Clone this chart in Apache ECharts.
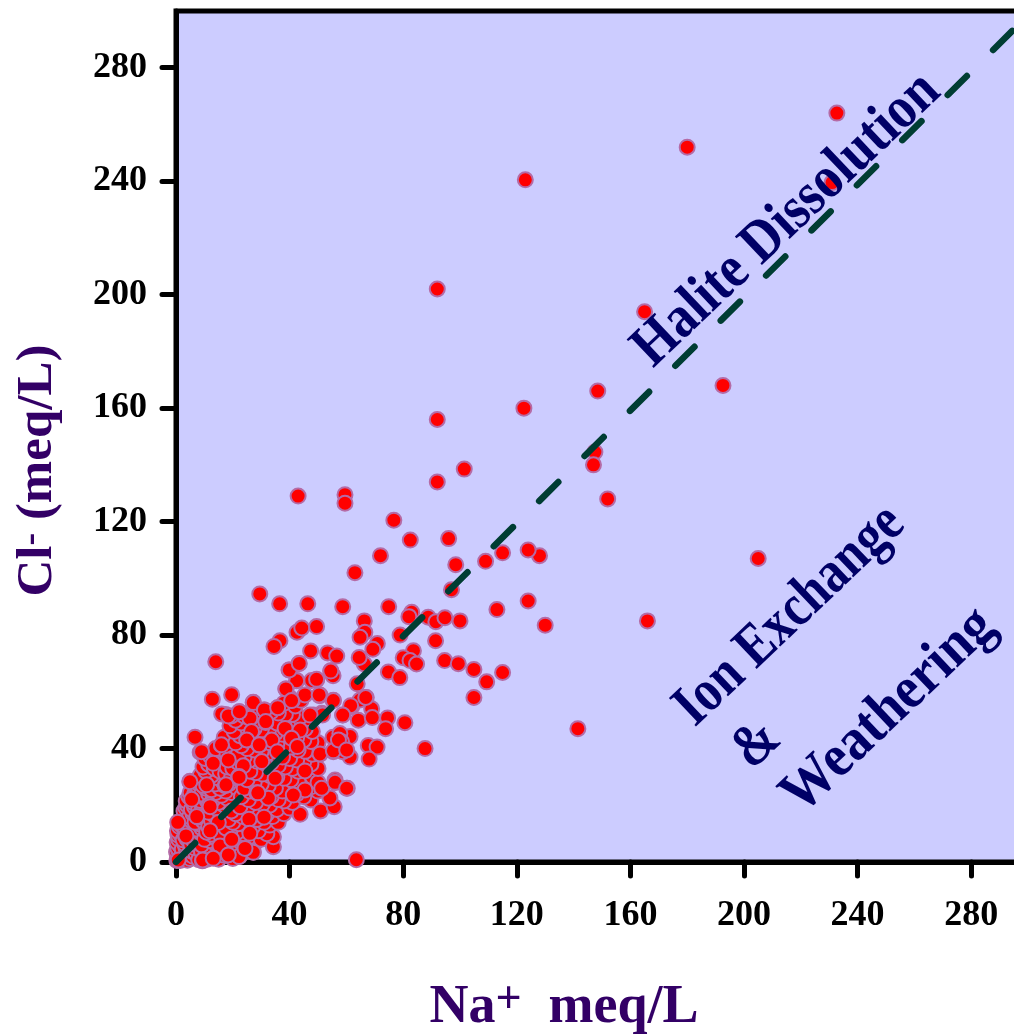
<!DOCTYPE html>
<html>
<head>
<meta charset="utf-8">
<style>html,body{margin:0;padding:0;background:#fff;overflow:hidden}#chart{width:1014px;height:1035px}</style>
<script src="https://cdn.jsdelivr.net/npm/echarts@6/dist/echarts.min.js"></script>
</head>
<body>
<div id="chart"></div>
<script>
const tickValues = [0, 40, 80, 120, 160, 200, 240, 280];
const xTitle = ['Na', '+', 'meq/L'];
const yTitle = ['Cl', '-', '(meq/L)'];
const reference1to1 = [[0, 0], [300, 298.5]];

const originPoints = [[0.3,0.5],[0.5,1.5],[0.8,2.5],[0.2,3.5],[1,4],[0.6,5],[1.2,6],[0.4,7],[1,8],[0.7,9.5],[1.5,10],[0.5,11],[1.2,12.5],[2,13],[2.5,15],[1.8,14],[3,16],[2.8,18],[3.5,19],[4,20],[3.6,21.5],[4.6,23],[5,24.5],[4.9,28.5],
[1.5,0.5],[2.5,1],[2,2.2],[3,3],[2.2,4.5],[3.5,5],[3,6.5],[2.5,7.8],[4,8],[3.3,9.2],[4.5,10],[3.2,11.5],[5,12],[4.2,13],[5.5,14.5],[4.8,16],[6,17],[5.4,18.5],[6.5,19.5],[6,21],[7,22],[6.6,24],[7.5,25],[7.3,27],[8.2,27.5],
[4,0.6],[5,1.2],[4.5,2.8],[6,2],[5.5,3.8],[7,3],[6.5,5],[5.2,6.3],[7.5,6],[6.2,7.5],[8,8],[7,9],[6,10],[8.5,10.5],[7.3,11.6],[9,12],[8,13.5],[6.7,14],[9.5,14.5],[7.8,15.8],[10,16],[9,17.5],[8,18.6],[10.5,19],[9.2,20],[8.5,21.7],[11,21.5],[10,23],[9,24],[11.5,24],[10.5,26],[9.5,27],[12,27],[11,28.5],[10,30],[8.5,30.5]];

const lowerLeftPoints = [[8,0.8],[9.3,0.4],[10,2],[11,1],[12,2.5],[9,3.5],[10.5,4.5],[13,4],[11.5,5.5],[9,6],[13.5,6.8],[12,7.5],[10,8],[14,8.5],[12.5,9.8],[10.8,10.5],[15,10.5],[13.5,11.5],[11.5,12.5],[16,12.5],[14.5,13.5],[12.5,14.5],[17,15],[15.5,15.5],[13.5,16.5],[11.5,17.5],[18,17],[16,18],[14,19],[12,20],[19,19.5],[17,20],[15,21],[13,22],[20,21.5],[18,22.5],[16,23.5],[14,24.5],[12.5,25.5],[19.5,24.5],[17.5,25],[15.5,26],[13.8,27.5],[21,26.5],[18.5,27.5],[16.5,28.5],[14.5,29.8],[12.5,30.5],[10.5,32],[9.5,33.5],[11.5,34.5],[13.5,33],[8.5,38.7],[10.2,36.5],[12,37.5],[6.7,44],[14,36],[15.5,32],[17.5,31],[19.5,29.5],[16,35],[18,33.5],[20,33],[22,30],[14,40],[16,41.2],[18,38],[20,36.5],[22,35],[24,33],[17,44],[12.8,57.4],[14,70.6],[19.6,59]];

const lowerBandPoints = [[15,1],[16.5,2.5],[18.4,2.4],[20,1.2],[22.3,1.9],[17,4.5],[15.5,5.2],[19,5.5],[21,4],[24,3.5],[27.2,3.4],[25,6],[23,7],[20,8],[18,8],[16,9],[28,7],[26,9],[24,10],[21.5,10.5],[19,11],[17.5,12],[30,8],[34.3,5.4],[34.3,8.9],[32,10],[29,11],[27,12.5],[24.5,13],[22,13.5],[20,14],[18.5,15],[33,13],[31,14],[28.5,15],[26,15.8],[23.5,16],[21,17],[19.5,18],[36,14],[34,16],[32,17],[29.5,18],[27,18.5],[25,19],[22.5,19.5],[38,17],[35.5,18.5],[33,20],[30.5,20.5],[28,21],[25.5,22],[23,23],[40,19],[43.7,16.8],[41,21],[38,21.5],[36,22],[33.5,23],[31,24],[28.5,24.5],[26,25],[24,26],[47.5,21.9],[45,23],[42.5,24],[40,24.5],[37.5,25],[35,26],[32.5,27],[30,27.5],[27.5,28],[25,29],[50.9,18],[55.7,19.5],[54.2,22.6],[56.1,28],[60.3,26],[50,25],[47.5,26.5],[45,27.5],[43,28.5],[40.5,29],[38,29.5],[35.5,30],[33,30.5],[30.5,31],[28,31.5],[26,32]];

const middlePoints = [[45.8,32.2],[48,30],[50,28],[43,32],[41,33],[38.5,33.5],[36,34],[33.5,35],[31,35],[28.5,35.5],[26,36],[24,37],[22,38],[50,33],[47.5,34.5],[45,35.5],[42.5,36],[40,36.5],[37.5,37],[35,38],[32.5,38.5],[30,39],[27.5,39.5],[25,40],[23,41],[21,42],[50.7,38.1],[48,38],[45.5,39],[43,39.5],[40.5,40.5],[38,41],[35.5,41.5],[33,42],[29.3,41.2],[27,43],[24.9,43],[22.5,44.5],[20.5,46],[19,48],[50,42],[47.5,42.5],[45,43],[42.5,44],[40,44.5],[37.5,45],[35,45.5],[32.5,46],[30,46.5],[27.5,47],[25,47.5],[23,49],[21,50],[48,46],[45.5,47],[43,47.5],[40.5,48],[38,48.5],[35.5,49],[31.6,49.2],[29,50],[26.5,51],[24,51.5],[22.3,53],[19.5,51.5],[17.5,52],[48.4,51.8],[51.3,52.4],[46,50.5],[43.5,51],[41,52],[38.5,52],[36,52.5],[33.5,53],[31.1,53.6],[35.8,54.4],[27.2,56.3],[29,52.5],[42,55],[44,57],[40,58],[38,56]];

const upperBandPoints = [[42.5,64],[38.7,61],[41,57],[39.8,67.7],[43.3,70],[47.4,74.4],[36.6,78],[34.5,76],[42.6,81],[44.3,82.5],[49.5,83],[49.5,64.2],[47.8,64],[45.4,58.9],[50.6,58.6],[55.4,57],[53.4,73.7],[56.6,72.6],[54.5,67.4],[55.3,65.7],[51.6,51.8],[58.7,51.8],[61.9,54.8],[67,58],[64.2,50],[68.9,54],[74.5,50.8],[80.6,49.1],[73.8,47],[67.7,41.1],[70.8,40.5],[68,36.3],[55.3,44],[61.3,44.2],[57.7,45.3],[61.3,37],[55.4,38.9],[58.7,38.9],[58.3,42.4],[56,28.9],[50.7,58.9],[64.8,57.1],[66.8,58],[61.5,55.1],[63.8,62.8],[66.3,69.8],[64.5,72.1],[66.3,85],[66.5,81],[64.8,79.2],[70.9,77],[69.3,75],[78.9,80],[74.8,67],[78.8,65],[69.1,50.9]];

const outlierPoints = [[232.7,264],[231,239.5],[180,252],[123,240.5],[92,202],[165,194],[192.6,168],[148.5,166],[92,156],[122.5,160],[147.5,144.5],[147,140],[152,128],[92,134],[101.5,138.5],[43,129],[59.5,129.5],[59.5,126.5],[205,107],[128,108],[115,109],[124,110],[109,106],[96,114],[98.5,104.8],[76.7,120.5],[82.5,113.5],[72,108],[63,102],[97,96],[29.5,94.5],[36.5,91],[46.4,91],[58.7,90],[74.9,90],[83,88],[82,86.5],[88.8,86.3],[91.5,84.7],[94.7,86.1],[100,85],[113,89],[124,92],[130,83.5],[166,85],[141.5,47],[63.5,0.8],[91.4,78],[83.6,74.5],[80,72],[82.4,71],[84.7,69.8],[94.6,71],[99.4,69.9],[104.9,67.9],[115,66.8],[109.4,63.5],[104.9,58],[87.7,40]];

const topLayerPoints = [[16.1,52.2],[18.4,51.5],[26,50.7],[38.4,47.1],[43.7,46.5],[26.6,46],[24.9,43],[33.7,43],[40.7,43.6],[29.3,41.3],[16,41.3],[42.7,40.7],[35.7,38.9],[9,38.9],[50.7,38.1],[18.4,36],[30.2,35.4],[13.1,34.8],[23.7,33.9],[45.4,32.1],[22.2,30.1],[34.9,29.5],[17.3,26.9],[10.8,27.2],[45.4,25.4],[51.3,26],[56,28.1],[60.1,26],[28.4,24.4],[41.3,23.6],[32.5,22.5],[11.7,20.1],[55.4,39.2],[57.2,43],[60.1,39.5],[47.2,51.8],[42.5,63.9],[38.7,61],[40.7,56.9],[50.4,58.9],[55.4,56.9],[58.7,51.8],[49.5,64.4],[39.9,67.7],[43.4,70],[54.5,67.3],[27.2,56.2],[22.3,53],[31.1,53.6],[35.8,54.4],[31.6,49.5],
[4.9,28.3],[22.2,29.9],[17.6,27.2],[12,19.5],[5.5,22.1],[7.3,16],[14.9,13.9],[0.6,14],[3.5,9.2],[12,11],[25.7,15.1],[31,15.8],[28.8,24.4],[26,10.1],[15.5,5.6],[9.4,0.7],[0.8,0.7],[27.2,3.4],[22.2,1.9],[18.4,2.5],[19.6,8],[24.3,4.8],[13.1,1.3]];

const allPoints = [].concat(originPoints, lowerLeftPoints, lowerBandPoints, middlePoints, upperBandPoints, outlierPoints, topLayerPoints);

const serif = '"Liberation Serif", serif';
const chart = echarts.init(document.getElementById('chart'), null, {renderer: 'canvas'});
const tickStyle = {show: true, length: 14, customValues: tickValues, lineStyle: {color: '#000', width: 5, cap: 'round'}};
const labelStyle = {customValues: tickValues, color: '#000', fontFamily: serif, fontWeight: 'bold', fontSize: 36};
function titleRich(mainSize, supSize) {
  return {
    main: {color: '#330066', fontFamily: serif, fontWeight: 'bold', fontSize: mainSize},
    sup: {color: '#330066', fontFamily: serif, fontWeight: 'bold', fontSize: supSize, verticalAlign: 'top', padding: [0, 0, 14, 0]}
  };
}
const axisBase = {type: 'value', min: 0, max: 300, interval: 40, splitLine: {show: false}, minorTick: {show: false},
  axisLine: {show: true, onZero: false, lineStyle: {color: '#000', width: 5}}, axisTick: tickStyle, nameLocation: 'middle'};
const rotation = 43.5 * Math.PI / 180;
function note(text, x, y, scaleX) {
  return {type: 'text', x: x, y: y, rotation: rotation, scaleX: scaleX, z: 10,
    style: {text: text, font: 'bold 60px ' + serif, fill: '#000066', align: 'center', verticalAlign: 'middle'}};
}

chart.setOption({
  animation: false,
  backgroundColor: '#fff',
  grid: {left: 176, top: 11, width: 852, height: 851, show: true, backgroundColor: '#CCCCFF', borderColor: '#000', borderWidth: 5, outerBoundsMode: 'none', containLabel: false},
  xAxis: Object.assign({}, axisBase, {
    name: '{main|' + xTitle[0] + '}{sup|' + xTitle[1] + '}{main|  ' + xTitle[2] + '}',
    nameGap: 116,
    nameTextStyle: {rich: titleRich(54, 46), padding: [0, 76, 0, 0]},
    axisLabel: Object.assign({}, labelStyle, {margin: 36})
  }),
  yAxis: Object.assign({}, axisBase, {
    name: '{main|' + yTitle[0] + '}{sup|' + yTitle[1] + '}{main| ' + yTitle[2] + '}',
    nameGap: 112,
    nameTextStyle: {rich: titleRich(51, 38), padding: [0, 68, 0, 0]},
    axisLabel: Object.assign({}, labelStyle, {margin: 29})
  }),
  series: [
    {type: 'scatter', data: allPoints, clip: false, symbol: 'circle', symbolSize: 15, large: false, progressive: 0,
     itemStyle: {color: '#FF0000', borderColor: '#B56BA6', borderWidth: 2, opacity: 1}, emphasis: {disabled: true}},
    {type: 'line', data: reference1to1, symbol: 'none', clip: true, z: 5, lineStyle: {color: '#003D33', width: 6.5, cap: 'round', type: [27, 37]}}
  ],
  graphic: [
    note('Halite Dissolution', 787, 220, 0.87),
    note('Ion Exchange', 790, 616, 0.83),
    note('&', 757, 745, 0.85),
    note('Weathering', 889, 711, 0.9)
  ]
});
</script>
</body>
</html>
